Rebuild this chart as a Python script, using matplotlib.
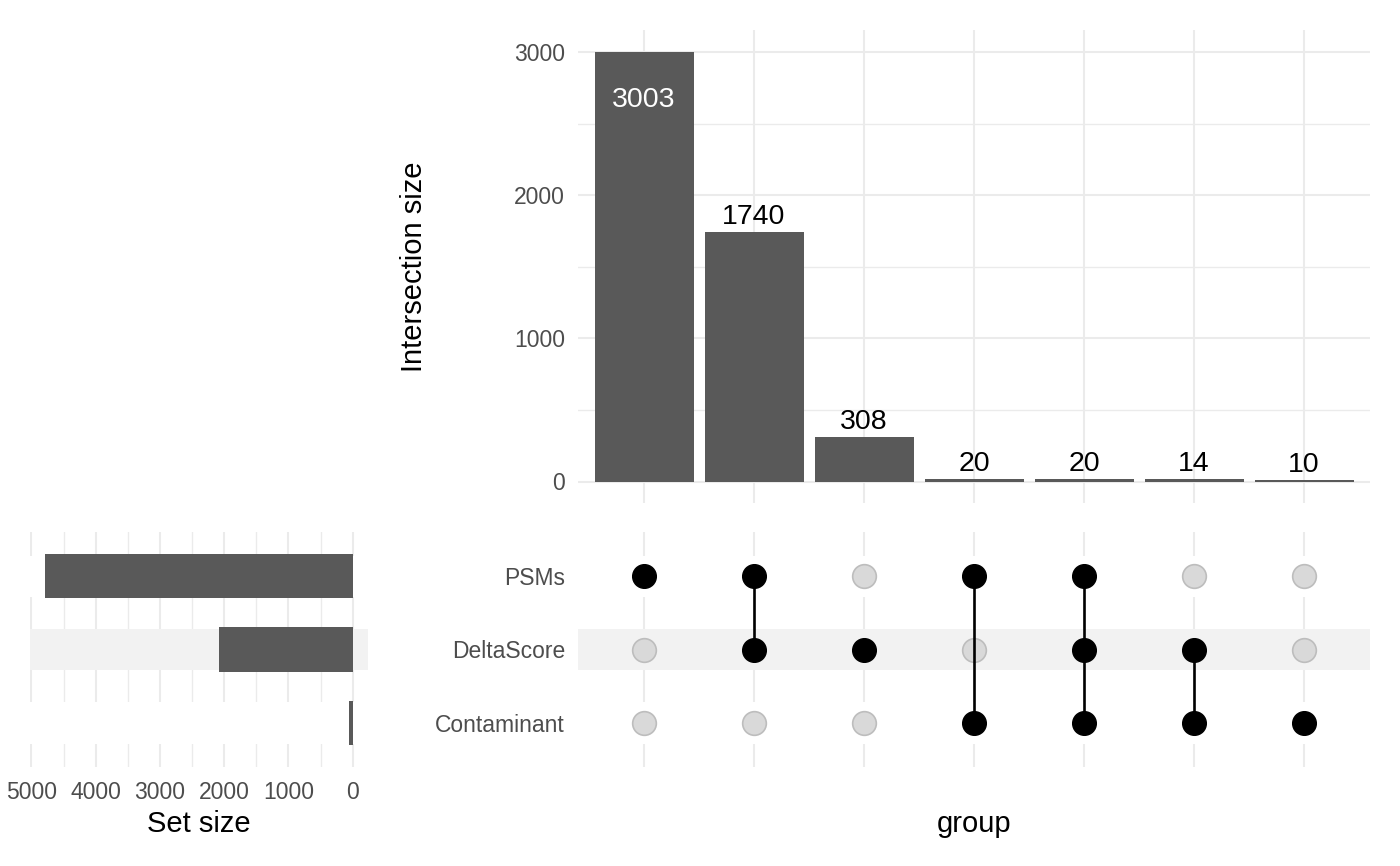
import matplotlib
matplotlib.use("Agg")
import matplotlib.pyplot as plt
import numpy as np

plt.rcParams['font.family'] = ['Liberation Sans', 'DejaVu Sans']

# data
sets = ['Contaminant', 'DeltaScore', 'PSMs']          # bottom to top
intersections = [
    ['PSMs'],
    ['PSMs', 'DeltaScore'],
    ['DeltaScore'],
    ['PSMs', 'Contaminant'],
    ['PSMs', 'DeltaScore', 'Contaminant'],
    ['DeltaScore', 'Contaminant'],
    ['Contaminant'],
]
inter_sizes = [3003, 1740, 308, 20, 20, 14, 10]
set_sizes = [sum(s for m, s in zip(intersections, inter_sizes) if name in m) for name in sets]

W, H = 1400, 866
fig = plt.figure(figsize=(14, 8.66), dpi=100)

def box(l, t, r, b):
    return [l / W, 1 - b / H, (r - l) / W, (b - t) / H]

grid_c = '#EBEBEB'
txt_c = '#4D4D4D'
bar_c = '#595959'
stripe_c = '#F2F2F2'
tick_fs = 16.5
title_fs = 21
label_fs = 20.5

ax_bar = fig.add_axes(box(578, 30, 1370, 503))
ax_mat = fig.add_axes(box(578, 532, 1370, 767))
ax_set = fig.add_axes(box(30, 532, 368, 767))

x = np.arange(1, len(inter_sizes) + 1)
ymax = max(inter_sizes)

# intersection bars
ax_bar.bar(x, inter_sizes, width=0.9, color=bar_c, zorder=2)
ax_bar.set_xlim(0.4, len(x) + 0.6)
ax_bar.set_ylim(-0.05 * ymax, ymax * 1.05)
ax_bar.set_yticks(np.arange(0, 3001, 1000))
ax_bar.set_yticks(np.arange(500, 3001, 1000), minor=True)
ax_bar.set_xticks(x)
ax_bar.set_xticklabels([])
for i, v in zip(x, inter_sizes):
    if v == ymax:
        ax_bar.annotate(str(v), (i, v), xytext=(0, -35), textcoords='offset points',
                        ha='center', va='center', color='white', fontsize=label_fs)
    else:
        ax_bar.annotate(str(v), (i, v), xytext=(0, 1.5), textcoords='offset points',
                        ha='center', va='bottom', color='black', fontsize=label_fs)
ax_bar.set_ylabel('Intersection size', fontsize=title_fs, labelpad=62)

# matrix
ax_mat.set_xlim(0.4, len(x) + 0.6)
ax_mat.set_ylim(-0.6, len(sets) - 0.4)
ax_mat.set_xticks(x)
ax_mat.set_xticklabels([])
ax_mat.set_yticks(range(len(sets)))
ax_mat.set_yticklabels(sets)
for k, name in enumerate(sets):
    ax_mat.axhspan(k - 0.28, k + 0.28, color=stripe_c if k % 2 else 'white', zorder=1, lw=0)
    ax_set.axhspan(k - 0.28, k + 0.28, color=stripe_c if k % 2 else 'white', zorder=1, lw=0)
for i, members in zip(x, intersections):
    ys = [sets.index(m) for m in members]
    off = [k for k in range(len(sets)) if k not in ys]
    ax_mat.scatter([i] * len(off), off, s=290, color='#D9D9D9', edgecolor='#BDBDBD',
                   linewidth=1.2, zorder=3)
    if len(ys) > 1:
        ax_mat.plot([i, i], [min(ys), max(ys)], color='black', lw=1.9, zorder=4)
    ax_mat.scatter([i] * len(ys), ys, s=290, color='black', zorder=5)
ax_mat.set_xlabel('group', fontsize=title_fs, labelpad=21.5)

# set sizes
smax = max(set_sizes)
ax_set.barh(range(len(sets)), set_sizes, height=0.6, color=bar_c, zorder=2)
ax_set.set_xlim(smax * 1.05, -0.05 * smax)
ax_set.set_ylim(-0.6, len(sets) - 0.4)
ax_set.set_xticks(np.arange(0, 5001, 1000))
ax_set.set_xticks(np.arange(500, 5000, 1000), minor=True)
ax_set.set_yticks([])
ax_set.set_xlabel('Set size', fontsize=title_fs, labelpad=4.5)

for ax in (ax_bar, ax_mat, ax_set):
    for sp in ax.spines.values():
        sp.set_visible(False)
    ax.tick_params(which='both', length=0, labelsize=tick_fs, labelcolor=txt_c, pad=9.4)
    ax.set_axisbelow(True)

ax_set.tick_params(axis='x', pad=10)
ax_bar.grid(True, which='major', color=grid_c, lw=1.5, zorder=0)
ax_bar.grid(True, which='minor', axis='y', color=grid_c, lw=1.0, zorder=0)
ax_mat.grid(True, axis='x', color=grid_c, lw=1.5, zorder=0)
ax_set.grid(True, which='major', axis='x', color=grid_c, lw=1.5, zorder=0)
ax_set.grid(True, which='minor', axis='x', color=grid_c, lw=1.0, zorder=0)

fig.savefig('out.png', dpi=100)
